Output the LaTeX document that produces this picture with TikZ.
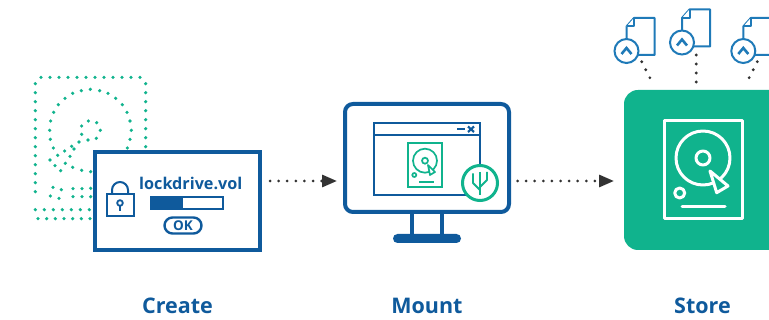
\documentclass[tikz,border=0pt]{standalone}
\usepackage{fontspec}
\setmainfont{Open Sans}
\usetikzlibrary{arrows.meta}
\definecolor{navy}{HTML}{0F5A9C}
\definecolor{teal1}{HTML}{10B38D}
\definecolor{sky}{HTML}{1F7AB8}
\definecolor{ink}{HTML}{333333}
\tikzset{
  caption/.style={font=\fontsize{21.5}{25}\selectfont\bfseries,text=navy,inner sep=0pt,anchor=center},
  panel/.style={draw=navy,line width=4pt,fill=white,inner sep=0pt,outer sep=0pt,rectangle},
  flow/.style={draw=ink,line width=3pt,line cap=round,dash pattern=on 0pt off 8.6pt,-{Stealth[length=15pt,width=12pt,inset=0pt]},shorten <=8.5pt,shorten >=8pt},
  rise/.style={draw=ink,line width=3.2pt,line cap=round,dash pattern=on 0pt off 9pt},
  thinnavy/.style={draw=navy,line width=2pt},
  thinteal/.style={draw=teal1,line width=1.7pt},
  whiteline/.style={draw=white,line width=3pt,line join=round},
  docline/.style={draw=sky,line width=2pt,line join=round,fill=white},
}
\newcommand{\docicon}[3]{%
  \draw[docline] (#1+7.5,#2) -- (#1+28,#2) -- (#1+28,#2+37) -- (#1,#2+37) -- (#1,#2+8.5) -- cycle;
  \draw[docline] (#1+7.5,#2) -- (#1+7.5,#2+8.5) -- (#1,#2+8.5);
  \node[circle,draw=sky,line width=2pt,fill=white,minimum size=24pt,inner sep=0pt] (#3) at (#1,#2+33) {};
  \draw[draw=sky,line width=2.6pt] (#1-5,#2+36) -- (#1,#2+30) -- (#1+5,#2+36);
}
\begin{document}
\begin{tikzpicture}[x=1pt,y=-1pt]
\useasboundingbox (0,0) rectangle (769,320);
\clip (0,0) rectangle (769,320);

% dotted drive behind the Create window
\begin{scope}[shift={(20,60)},x=0.3333pt,y=-0.3333pt]
  \foreach \px in {63,90,...,360} \fill[teal1] (\px,52) circle[radius=5.4];
  \foreach \py in {71,98,...,395} \fill[teal1] (46,\py) circle[radius=5.4];
  \foreach \py in {71,98,...,260} \fill[teal1] (377,\py) circle[radius=5.4];
  \foreach \px in {46,73,...,208} \fill[teal1] (\px,449) circle[radius=5.4];
  \foreach \px in {54,80,...,210} \fill[teal1] (\px,476) circle[radius=5.4];
  \foreach \px/\py in {101/157,115/134,135/115,158/100,184/92,211/88,239/92,264/100,287/115,307/134,321/157,330/183,334/211,330/238,322/264,92/183,89/211,91/238,100/264,105/317,122/332,158/322,185/331,212/335,205/183,230/188,185/198,241/211,185/223,229/235,204/240,177/246,155/259,162/267,134/273,113/286,150/289,90/300,136/310,99/382,124/389,159/386,186/386,212/385,91/408,117/415,159/410,186/410,212/410}
    \fill[teal1] (\px,\py) circle[radius=5.4];
\end{scope}

% Create window
\node[panel,minimum width=165pt,minimum height=98pt] (create) at (177.8,201.5) {};
\draw[thinnavy,fill=white] (106.5,194.5) rectangle (134,216.5);
\draw[thinnavy] (112,194.5) -- (112,190) arc[start angle=180,end angle=360,radius=8] -- (128,194.5);
\draw[navy,line width=1.8pt] (120,203) circle[radius=2.8];
\draw[navy,line width=2pt] (120,205.8) -- (120,211.5);
\node[font=\fontsize{16.2}{19}\selectfont\bfseries,text=navy,inner sep=0pt] (volname) at (190.8,183) {lockdrive.vol};
\node[draw=navy,line width=1.4pt,fill=white,minimum width=72pt,minimum height=12pt,inner sep=0pt] (bar) at (187,203) {};
\fill[navy] (bar.north west) rectangle (183,209);
\node[draw=navy,line width=2.4pt,fill=white,rounded corners=8pt,minimum width=37pt,minimum height=16pt,inner sep=0pt,font=\fontsize{13.5}{15}\selectfont\bfseries,text=navy] (okbtn) at (183,225.5) {OK};

% Monitor
\draw[navy,line width=3.4pt] (412,212) -- (412,236);
\draw[navy,line width=3.4pt] (442,212) -- (442,236);
\node[draw=none,fill=navy,rounded corners=4.5pt,minimum width=68pt,minimum height=9pt,inner sep=0pt] (monbase) at (427,238.5) {};
\node[panel,rounded corners=8pt,minimum width=164pt,minimum height=108pt] (mon) at (427,158) {};
\node[thinnavy,draw,fill=white,minimum width=106pt,minimum height=72pt,inner sep=0pt] (win) at (427,159) {};
\draw[thinnavy] (374,135) -- (480,135);
\draw[navy,line width=2.2pt] (457,129) -- (464.5,129);
\draw[navy,line width=2.2pt] (468,126.5) -- (474,132) (474,126.5) -- (468,132);
\node[thinteal,draw,minimum width=34pt,minimum height=44pt,inner sep=0pt] (hdsmall) at (424.7,165) {};
\draw[thinteal] (425,160.7) circle[radius=12];
\draw[thinteal] (425,160.7) circle[radius=3];
\draw[thinteal,fill=white,line join=round] (428,165) -- (435,172) -- (430,175) -- cycle;
\draw[thinteal] (414.3,175) circle[radius=2];
\draw[thinteal] (419,182) -- (434,182);
\node[circle,draw=teal1,line width=3pt,fill=white,minimum size=35pt,inner sep=0pt] (usb) at (480,183) {};
\draw[teal1,line width=1.8pt,line join=round] (480,172) -- (480,195);
\draw[teal1,line width=1.8pt,line join=round] (473,173.5) -- (473,183) -- (480,190);
\draw[teal1,line width=1.8pt,line join=round] (487,172) -- (487,180) -- (480,187);

% Store
\node[fill=teal1,draw=none,rounded corners=14pt,minimum width=190pt,minimum height=160pt,inner sep=0pt,outer sep=0pt] (store) at (719,170) {};
\node[whiteline,draw,minimum width=78pt,minimum height=98pt,inner sep=0pt] (hdbig) at (703,170) {};
\draw[whiteline] (703,158) circle[radius=27];
\draw[whiteline] (703,158) circle[radius=7];
\draw[whiteline,fill=teal1] (710,171) -- (728,186) -- (716.7,192.7) -- cycle;
\draw[whiteline] (679.7,193) circle[radius=5];
\draw[whiteline,line cap=round] (682,207) -- (725,207);

% documents
\docicon{626.5}{18}{up1}
\docicon{682}{9.5}{up2}
\docicon{743.3}{18}{up3}
\coordinate (d1a) at (641.7,61.7);
\coordinate (d1b) at (650,78);
\coordinate (d2a) at (696.3,55);
\coordinate (d2b) at (696.3,83);
\coordinate (d3a) at (757.3,61.7);
\coordinate (d3b) at (749,78);
\draw[rise] (d1a) -- (d1b);
\draw[rise] (d2a) -- (d2b);
\draw[rise] (d3a) -- (d3b);

% flow arrows
\coordinate (createout) at (261.5,181);
\coordinate (monin) at (345,181);
\coordinate (monout) at (509,181);
\coordinate (storein) at (622,181);
\draw[flow] (createout) -- (monin);
\draw[flow] (monout) -- (storein);

% captions
\node[caption] (cap1) at (177.5,305.6) {Create};
\node[caption] (cap2) at (427,305.6) {Mount};
\node[caption] (cap3) at (702.5,305.6) {Store};
\end{tikzpicture}
\end{document}
